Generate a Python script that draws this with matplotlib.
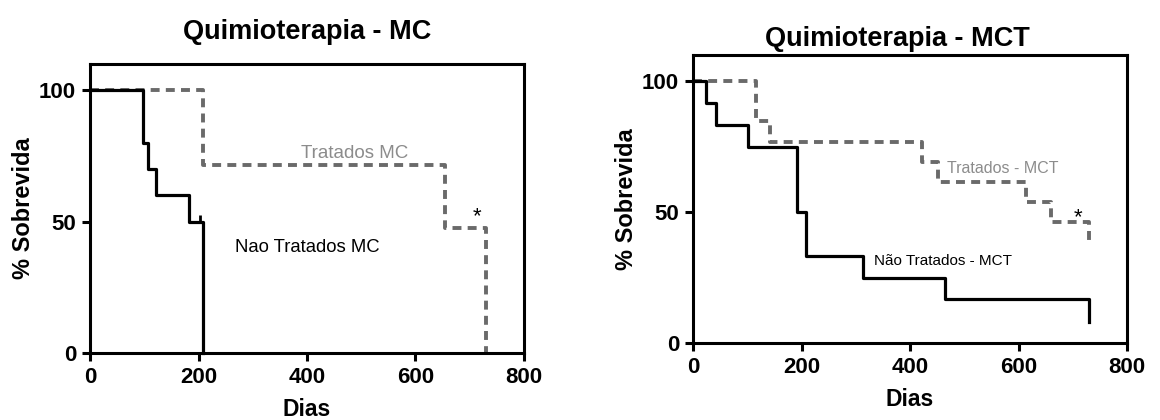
import matplotlib
matplotlib.use("Agg")
import matplotlib.pyplot as plt

plt.rcParams['font.family'] = ['Liberation Sans', 'DejaVu Sans']

# Quimioterapia - MC
nt_mc_dias = [0, 97, 106, 121, 182, 209]
nt_mc_sobrev = [100, 80, 70, 60, 50, 0]
t_mc_dias = [0, 208, 654, 730]
t_mc_sobrev = [100, 71.4, 47.6, 0]

# Quimioterapia - MCT
nt_mct_dias = [0, 24, 42, 101, 191, 209, 314, 464, 730]
nt_mct_sobrev = [100, 91.7, 83.3, 75, 50, 33.3, 25, 16.7, 8.3]
t_mct_dias = [0, 116, 142, 423, 452, 614, 659, 730]
t_mct_sobrev = [100, 84.6, 76.9, 69.2, 61.5, 53.8, 46.2, 38.5]

xticks = [0, 200, 400, 600, 800]
yticks = [0, 50, 100]

GREY = '#6a6a6a'


def style_axes(ax, title, title_pad, title_x):
    ax.set_xlim(0, 800)
    ax.set_ylim(0, 110)
    ax.set_xticks(xticks)
    ax.set_yticks(yticks)
    for s in ax.spines.values():
        s.set_linewidth(2.2)
    ax.tick_params(width=2.2, length=6, labelsize=16, pad=4)
    for lab in ax.get_xticklabels() + ax.get_yticklabels():
        lab.set_fontweight('bold')
    ax.set_xlabel('Dias', fontsize=16.5, fontweight='bold', labelpad=7)
    ax.set_ylabel('% Sobrevida', fontsize=17, fontweight='bold', labelpad=3)
    ax.set_title(title, fontsize=19.5, fontweight='bold', pad=title_pad,
                 x=title_x)


def curve(ax, x, y, dashed=False):
    if dashed:
        ax.plot(x, y, drawstyle='steps-post', color=GREY, lw=2.8,
                dashes=(2.3, 1.6), clip_on=False)
    else:
        ax.plot(x, y, drawstyle='steps-post', color='black', lw=2.3,
                clip_on=False)


fig = plt.figure(figsize=(11.6, 4.2), dpi=100)
ax1 = fig.add_axes([0.0776, 0.1595, 0.3741, 0.6881])
ax2 = fig.add_axes([0.5974, 0.1826, 0.3742, 0.6872])

curve(ax1, t_mc_dias, t_mc_sobrev, dashed=True)
curve(ax1, nt_mc_dias, nt_mc_sobrev)
ax1.plot([202], [51.5], marker='|', color='black', ms=5, mew=2)
ax1.text(487, 76, 'Tratados MC', color='#8c8c8c', fontsize=13.5,
         ha='center', va='center')
ax1.text(400, 40, 'Nao Tratados MC', color='black', fontsize=13.3,
         ha='center', va='center')
ax1.text(713, 52, '*', color='black', fontsize=16, ha='center', va='center')
style_axes(ax1, 'Quimioterapia - MC', 18, 0.5)

curve(ax2, t_mct_dias, t_mct_sobrev, dashed=True)
curve(ax2, nt_mct_dias, nt_mct_sobrev)
ax2.text(571, 66.5, 'Tratados - MCT', color='#8c8c8c', fontsize=11.5,
         ha='center', va='center')
ax2.text(461, 31.5, 'Não Tratados - MCT', color='black', fontsize=11,
         ha='center', va='center')
ax2.text(710, 48, '*', color='black', fontsize=16, ha='center', va='center')
style_axes(ax2, 'Quimioterapia - MCT', 6, 0.47)

fig.savefig('out.png', dpi=100)
